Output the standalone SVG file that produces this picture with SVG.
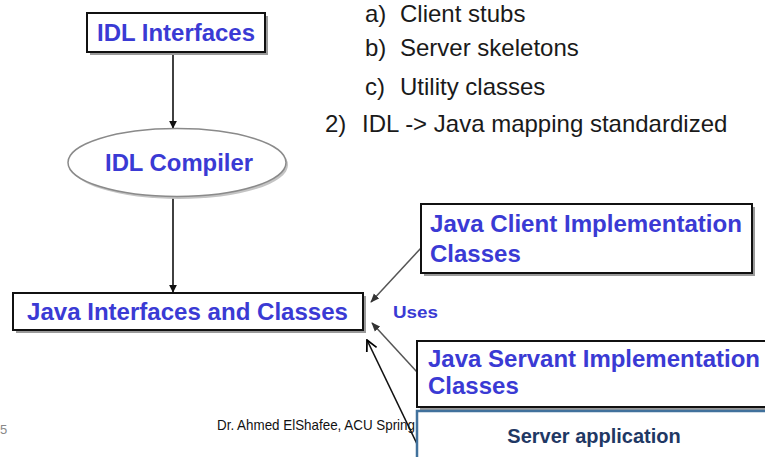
<svg xmlns="http://www.w3.org/2000/svg" width="765" height="457" viewBox="0 0 765 457">
<defs>
<style>
.node{font-family:"Liberation Sans",Arial,sans-serif;font-weight:bold;font-size:24px;fill:#3a3ad4}
.box{fill:#fff;stroke:#111;stroke-width:2}
.shadow{fill:#9a9a9a}
.list{font-family:"Liberation Sans",Arial,sans-serif;font-size:24px;fill:#1a1a1a}
.conn{fill:none;stroke:#111;stroke-width:1.6}
.gconn{fill:none;stroke:#555;stroke-width:1.5}
</style>
<marker id="ahs" viewBox="0 0 10 10" refX="9" refY="5" markerWidth="8" markerHeight="8" orient="auto" markerUnits="userSpaceOnUse">
<path d="M0,0 L10,5 L0,10 z" fill="#111"/>
</marker>
<marker id="ahg" viewBox="0 0 10 10" refX="9" refY="5" markerWidth="9" markerHeight="9" orient="auto" markerUnits="userSpaceOnUse">
<path d="M0,1 L10,5 L0,9 z" fill="#333"/>
</marker>
<marker id="aho" viewBox="0 0 12 12" refX="11" refY="6" markerWidth="13" markerHeight="13" orient="auto" markerUnits="userSpaceOnUse">
<path d="M1,1 L11,6 L1,11" fill="none" stroke="#000" stroke-width="1.6"/>
</marker>
</defs>
<rect width="765" height="457" fill="#fff"/>

<g id="list">
<text class="list" x="365" y="22">a)</text><text class="list" x="400" y="22">Client stubs</text>
<text class="list" x="365" y="56">b)</text><text class="list" x="400" y="56">Server skeletons</text>
<text class="list" x="365" y="95">c)</text><text class="list" x="400" y="95">Utility classes</text>
<text class="list" x="325" y="132">2)</text><text class="list" x="362" y="132">IDL -&gt; Java mapping standardized</text>
</g>

<g id="connectors">
<line class="conn" x1="173" y1="53" x2="173" y2="128" marker-end="url(#ahs)"/>
<line class="conn" x1="173" y1="197" x2="173" y2="292" marker-end="url(#ahs)"/>
<line class="gconn" x1="421" y1="248" x2="371" y2="302" marker-end="url(#ahg)"/>
<line class="gconn" x1="417" y1="372" x2="372" y2="323" marker-end="url(#ahg)"/>
<line class="conn" x1="418" y1="446" x2="367" y2="340" marker-end="url(#aho)"/>
</g>

<g id="idl-interfaces">
<rect class="shadow" x="90" y="16" width="178" height="39"/>
<rect class="box" x="87" y="13" width="178" height="39"/>
<text class="node" x="97" y="41" textLength="158" lengthAdjust="spacingAndGlyphs">IDL Interfaces</text>
</g>

<g id="idl-compiler">
<ellipse cx="179" cy="165" rx="109" ry="34" fill="#c4c4c4"/>
<ellipse cx="177" cy="162.5" rx="109" ry="34" fill="#fff" stroke="#8a8a8a" stroke-width="1.5"/>
<text class="node" x="105" y="171" textLength="148" lengthAdjust="spacingAndGlyphs">IDL Compiler</text>
</g>

<g id="java-interfaces">
<rect class="shadow" x="16" y="296" width="350" height="37"/>
<rect class="box" x="13" y="293" width="350" height="37"/>
<text class="node" x="27" y="320" textLength="321" lengthAdjust="spacingAndGlyphs">Java Interfaces and Classes</text>
</g>

<g id="uses">
<text class="node" x="393" y="318" style="font-size:17px" textLength="45" lengthAdjust="spacingAndGlyphs">Uses</text>
</g>

<g id="client-impl">
<rect class="shadow" x="424" y="207" width="331" height="69"/>
<rect class="box" x="421" y="204" width="331" height="69"/>
<text class="node" x="430" y="232" textLength="312" lengthAdjust="spacingAndGlyphs">Java Client Implementation</text>
<text class="node" x="430" y="262">Classes</text>
</g>

<g id="servant-impl">
<rect class="shadow" x="420" y="344" width="360" height="66"/>
<rect class="box" x="417" y="341" width="360" height="66"/>
<text class="node" x="428" y="367" textLength="332" lengthAdjust="spacingAndGlyphs">Java Servant Implementation</text>
<text class="node" x="428" y="394">Classes</text>
</g>

<g id="footer">
<text x="217" y="430" font-family="'Liberation Sans',Arial,sans-serif" font-size="15" fill="#111" textLength="198" lengthAdjust="spacingAndGlyphs">Dr. Ahmed ElShafee, ACU Spring</text>
<text x="0" y="434" font-family="'Liberation Sans',Arial,sans-serif" font-size="13" fill="#888">5</text>
</g>

<g id="server-app">
<rect x="417" y="411" width="360" height="60" fill="#fff" stroke="#41719c" stroke-width="2.5"/>
<text x="594" y="443" text-anchor="middle" font-family="'Liberation Sans',Arial,sans-serif" font-weight="bold" font-size="20" fill="#1f3864">Server application</text>
</g>
</svg>
